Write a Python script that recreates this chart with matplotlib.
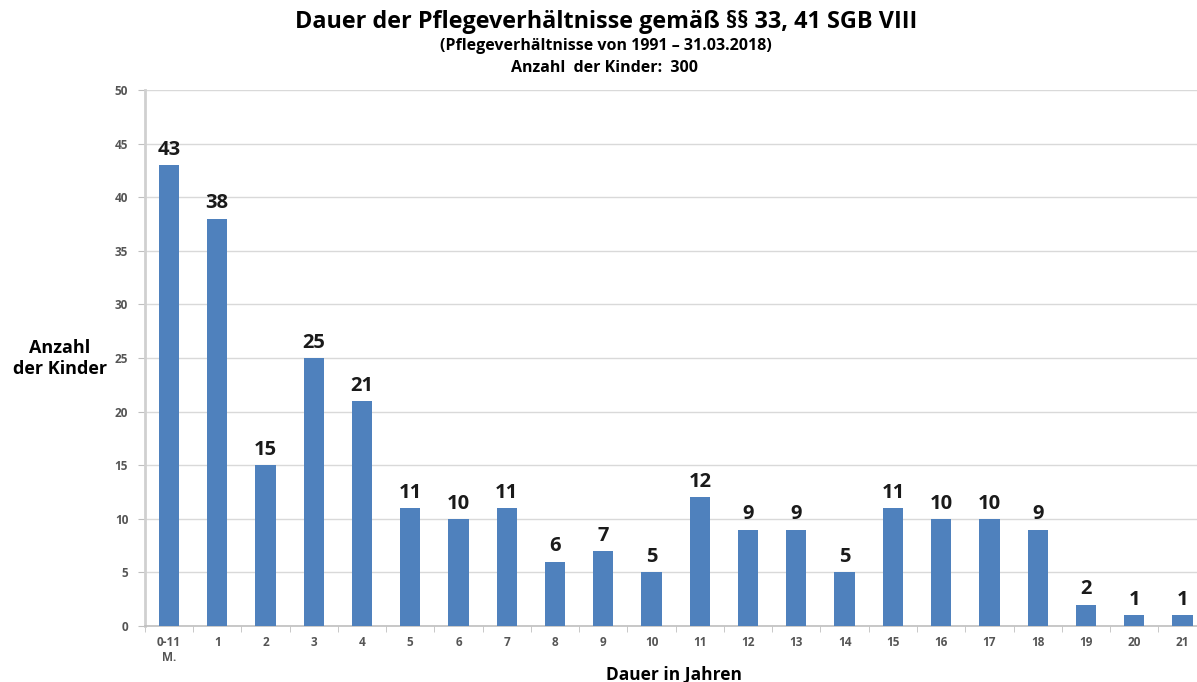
import matplotlib.pyplot as plt

categories = ["0-11\nM.", "1", "2", "3", "4", "5", "6", "7", "8", "9", "10",
              "11", "12", "13", "14", "15", "16", "17", "18", "19", "20", "21"]
values = [43, 38, 15, 25, 21, 11, 10, 11, 6, 7, 5, 12, 9, 9, 5, 11, 10, 10, 9, 2, 1, 1]
y_ticks = [0, 5, 10, 15, 20, 25, 30, 35, 40, 45, 50]

plt.rcParams["font.family"] = ["Open Sans", "DejaVu Sans"]

fig = plt.figure(figsize=(11.97, 6.82), dpi=100)
ax = fig.add_axes([0.121, 0.082, 0.887, 0.786])

x = list(range(len(categories)))
ax.bar(x, values, width=0.42, color="#4F81BD", zorder=3)

for xi, v in zip(x, values):
    ax.text(xi, v + 0.5, str(v), ha="center", va="bottom",
            fontsize=14.5, fontweight="bold", color="#1a1a1a")

ax.set_xlim(-0.5, len(categories) - 0.5)
ax.set_ylim(0, 50)
ax.set_yticks(y_ticks)
ax.set_yticklabels([str(t) for t in y_ticks], fontsize=8.5, color="#555555", fontweight="bold")
ax.set_xticks(x)
ax.set_xticklabels(categories, fontsize=8.5, color="#555555", fontweight="bold")
ax.set_xticks([i - 0.5 for i in range(len(categories) + 1)], minor=True)
ax.tick_params(axis="x", which="major", length=0, pad=7)
ax.tick_params(axis="x", which="minor", length=4, color="#BFBFBF", direction="out")
ax.tick_params(axis="y", length=5, color="#BFBFBF", pad=7)

ax.grid(axis="y", color="#D9D9D9", linewidth=1, zorder=0)
for side in ["top", "right"]:
    ax.spines[side].set_visible(False)
ax.spines["left"].set_color("#D0D0D0")
ax.spines["left"].set_linewidth(2)
ax.spines["bottom"].set_color("#BFBFBF")
ax.spines["bottom"].set_linewidth(1.2)

fig.text(0.506, 0.968, "Dauer der Pflegeverhältnisse gemäß §§ 33, 41 SGB VIII",
         ha="center", va="center", fontsize=16.8, fontweight="bold")
fig.text(0.506, 0.932, "(Pflegeverhältnisse von 1991 – 31.03.2018)",
         ha="center", va="center", fontsize=11.5, fontweight="bold")
fig.text(0.505, 0.901, "Anzahl  der Kinder:  300",
         ha="center", va="center", fontsize=11.5, fontweight="bold")

fig.text(0.050, 0.474, "Anzahl\nder Kinder", ha="center", va="center",
         fontsize=13, fontweight="bold", linespacing=1.2)
fig.text(0.563, 0.010, "Dauer in Jahren", ha="center", va="center",
         fontsize=12.5, fontweight="bold")

fig.savefig("out.png", dpi=100, facecolor="white")
